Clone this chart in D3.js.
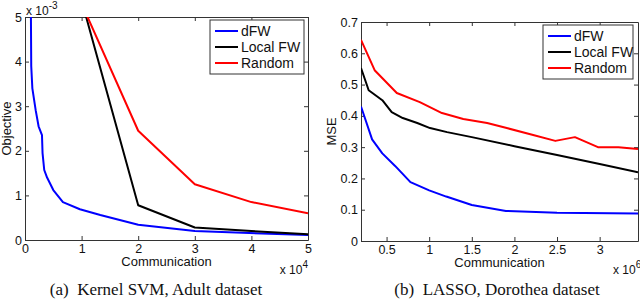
<!DOCTYPE html>
<html>
<head>
<meta charset="utf-8">
<script src="https://d3js.org/d3.v7.min.js"></script>
<style>
    body { margin: 0; background: #fff; }
    svg text { font-family: "Liberation Sans", Arial, sans-serif; fill: #111; }
    .axis path, .axis line { stroke: #333; }
    .caption { font-family: "Liberation Serif", "Times New Roman", serif; font-size: 17px; white-space: pre; }
</style>
</head>
<body>
<svg width="640" height="302"></svg>
<script>
    // (a) Kernel SVM, Adult dataset  -- communication vs objective (x1e-3)
    let svmComm   = { dfw: [1000, 1100, 1300, 1900, 2400, 3000, 3100, 3400, 3900, 5000, 6700, 9700, 13300, 20000, 30000, 50000],
                      local: [10000, 20000, 30000, 40000, 50000],
                      random: [10000, 20000, 30000, 40000, 50000] }
    let svmDfw    = [6.0, 3.9, 3.4, 2.9, 2.55, 2.35, 1.95, 1.57, 1.4, 1.12, 0.85, 0.69, 0.56, 0.34, 0.2, 0.11]
    let svmLocal  = [5.37, 0.78, 0.28, 0.2, 0.13]
    let svmRandom = [5.3, 2.45, 1.25, 0.85, 0.6]
    let svmXTicks = [0, 1, 2, 3, 4, 5]
    let svmYTicks = [0, 1, 2, 3, 4, 5]

    // (b) LASSO, Dorothea dataset -- communication (x1e6) vs MSE
    let lassoDfwX    = [0.2, 0.33, 0.45, 0.6, 0.78, 1.0, 1.2, 1.5, 1.9, 2.5, 3.45]
    let lassoDfw     = [0.43, 0.325, 0.28, 0.24, 0.188, 0.162, 0.142, 0.115, 0.096, 0.09, 0.088]
    let lassoLocalX  = [0.2, 0.29, 0.45, 0.56, 0.69, 0.86, 1.01, 1.21, 1.5, 2.0, 2.5, 3.0, 3.45]
    let lassoLocal   = [0.553, 0.482, 0.45, 0.412, 0.393, 0.377, 0.361, 0.348, 0.332, 0.303, 0.275, 0.246, 0.22]
    let lassoRandomX = [0.2, 0.36, 0.62, 0.89, 1.15, 1.4, 1.68, 1.91, 2.22, 2.48, 2.71, 2.98, 3.22, 3.45]
    let lassoRandom  = [0.643, 0.546, 0.473, 0.444, 0.409, 0.39, 0.377, 0.361, 0.339, 0.32, 0.332, 0.3, 0.3, 0.294]
    let lassoXTicks  = [0.5, 1, 1.5, 2, 2.5, 3]
    let lassoYTicks  = [0, 0.1, 0.2, 0.3, 0.4, 0.5, 0.6, 0.7]

    let legendNames = ['dFW', 'Local FW', 'Random']
    let colors = ['#0000ff', '#000000', '#ff0000']

    let svg = d3.select('svg')

    function panel(opt) {
        let g = svg.append('g')
        let x = d3.scaleLinear().domain(opt.xDomain).range([opt.left, opt.right])
        let y = d3.scaleLinear().domain(opt.yDomain).range([opt.bottom, opt.top])

        g.append('defs').append('clipPath').attr('id', opt.id)
            .append('rect')
            .attr('x', opt.left).attr('y', opt.top)
            .attr('width', opt.right - opt.left).attr('height', opt.bottom - opt.top)

        // box + inward ticks on all four sides
        let ax = (gen, tx, ty, labels) => {
            let a = g.append('g').attr('class', 'axis')
                .attr('transform', 'translate(' + tx + ',' + ty + ')')
                .call(gen)
            a.selectAll('text').style('font-size', '12.5px')
            if (!labels) a.selectAll('text').remove()
            return a
        }
        ax(d3.axisBottom(x).tickValues(opt.xTicks).tickSize(-4).tickSizeOuter(0).tickPadding(4).tickFormat(opt.xFmt), 0, opt.bottom, true)
        ax(d3.axisTop(x).tickValues(opt.xTicks).tickSize(-4).tickSizeOuter(0), 0, opt.top, false)
        ax(d3.axisLeft(y).tickValues(opt.yTicks).tickSize(-4).tickSizeOuter(0).tickPadding(3).tickFormat(opt.yFmt), opt.left, 0, true)
        ax(d3.axisRight(y).tickValues(opt.yTicks).tickSize(-4).tickSizeOuter(0), opt.right, 0, false)

        let line = d3.line().x(d => x(d[0])).y(d => y(d[1]))
        opt.series.forEach((s, i) => {
            g.append('path')
                .datum(d3.zip(s.xs, s.ys))
                .attr('clip-path', 'url(#' + opt.id + ')')
                .attr('fill', 'none')
                .attr('stroke', colors[i])
                .attr('stroke-width', 2)
                .attr('stroke-linejoin', 'round')
                .attr('d', line)
        })

        // legend
        let lg = g.append('g').attr('transform', 'translate(' + opt.legend[0] + ',' + opt.legend[1] + ')')
        lg.append('rect').attr('width', opt.legendW).attr('height', 54)
            .attr('fill', '#fff').attr('stroke', '#333').attr('stroke-width', 1)
        legendNames.forEach((n, i) => {
            let yy = 11 + i * 16
            lg.append('line').attr('x1', 5).attr('x2', 28).attr('y1', yy).attr('y2', yy)
                .attr('stroke', colors[i]).attr('stroke-width', 2)
            lg.append('text').attr('x', 31).attr('y', yy + 5).style('font-size', '14px').text(n)
        })

        // labels
        g.append('text').attr('x', (opt.left + opt.right) / 2).attr('y', opt.bottom + 26)
            .attr('text-anchor', 'middle').style('font-size', '13px').text('Communication')
        g.append('text')
            .attr('transform', 'translate(' + opt.yLabelX + ',' + (opt.top + opt.bottom) / 2 + ') rotate(-90)')
            .attr('text-anchor', 'middle').style('font-size', '13px').text(opt.yLabel)
        g.append('text').attr('class', 'caption').attr('x', opt.captionX).attr('y', 295)
            .attr('text-anchor', 'middle').text(opt.caption)
        return g
    }

    function expo(x, y, power, anchorEnd) {
        let t = svg.append('text').attr('x', x).attr('y', y).style('font-size', '12px')
            .attr('text-anchor', anchorEnd ? 'end' : 'start')
        t.append('tspan').text('x 10')
        t.append('tspan').attr('dy', -6).style('font-size', '10px').text(power)
    }

    panel({
        id: 'clipA', left: 25, right: 308, top: 17, bottom: 240,
        xDomain: [0, 50000], yDomain: [0, 5],
        xTicks: svmXTicks.map(d => d * 1e4), yTicks: svmYTicks,
        xFmt: d => d / 1e4, yFmt: d => d,
        series: [
            { xs: svmComm.dfw, ys: svmDfw },
            { xs: svmComm.local, ys: svmLocal },
            { xs: svmComm.random, ys: svmRandom }
        ],
        legend: [210, 20], legendW: 94,
        yLabel: 'Objective', yLabelX: 11,
        caption: '(a)  Kernel SVM, Adult dataset', captionX: 156
    })
    expo(26, 15, '-3', false)
    expo(308, 274, '4', true)

    panel({
        id: 'clipB', left: 361, right: 638, top: 22, bottom: 241,
        xDomain: [0.2, 3.45], yDomain: [0, 0.7],
        xTicks: lassoXTicks, yTicks: lassoYTicks,
        xFmt: d => d, yFmt: d => d,
        series: [
            { xs: lassoDfwX, ys: lassoDfw },
            { xs: lassoLocalX, ys: lassoLocal },
            { xs: lassoRandomX, ys: lassoRandom }
        ],
        legend: [543, 25], legendW: 90,
        yLabel: 'MSE', yLabelX: 336,
        caption: '(b)  LASSO, Dorothea dataset', captionX: 497
    })
    expo(613, 274, '6', false)
</script>
</body>
</html>
